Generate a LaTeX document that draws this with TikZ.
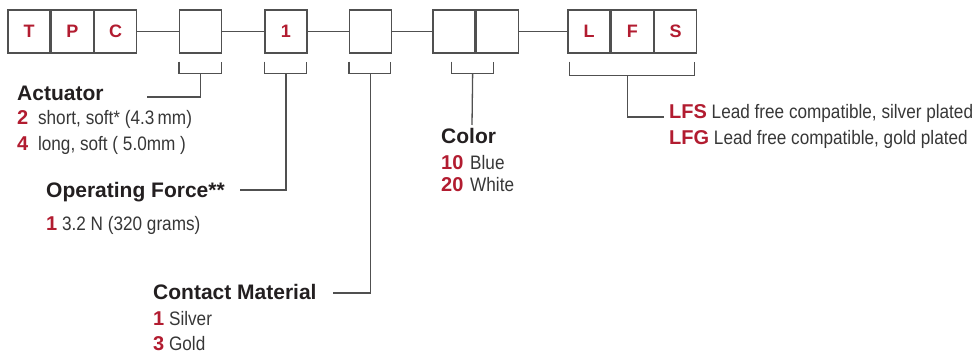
\documentclass[tikz,border=0pt]{standalone}
\usepackage{fontspec}
\setmainfont{Liberation Sans}
\newfontfamily\narrowfont[FakeStretch=0.88]{Liberation Sans}
\usetikzlibrary{positioning,calc}
\definecolor{partred}{RGB}{178,28,48}
\definecolor{linegray}{RGB}{80,80,80}
\definecolor{inkgray}{RGB}{35,31,32}
\definecolor{bodygray}{RGB}{55,55,55}
% red code followed by its meaning
\newcommand{\pick}[3][0pt]{{\color{partred}\rmfamily\fontsize{20}{24}\selectfont\bfseries #2}\hspace{#1}\ #3}
% bracket under one or more cells
\newcommand{\bracketspan}[3]{\draw[link] ($#1+(0,8)$) -- ($#1+(0,#3)$) -- ($#2+(0,#3)$) -- ($#2+(0,8)$);}
\tikzset{
  cell/.style={draw=linegray, line width=1.3pt, minimum width=42pt, minimum height=43pt,
    inner sep=0pt, text=partred, font=\fontsize{18}{20}\selectfont\bfseries},
  link/.style={draw=linegray, line width=1.3pt},
  head/.style={anchor=base west, inner sep=0pt, text=inkgray, font=\fontsize{21}{25}\selectfont\bfseries},
  item/.style={anchor=base west, inner sep=0pt, text=bodygray, font=\fontsize{19.5}{23}\selectfont\narrowfont}
}
\begin{document}
\begin{tikzpicture}[x=1pt, y=-1pt]
  \useasboundingbox (0,0) rectangle (974,352);
  % Code cells
  \node[cell] (t) at (29,31.5) {T};
  \node[cell, right=0pt of t] (p) {P};
  \node[cell, right=0pt of p] (c) {C};
  \node[cell] (act) at (200.5,31.5) {};
  \node[cell] (frc) at (286,31.5) {1};
  \node[cell] (mat) at (370.5,31.5) {};
  \node[cell] (col1) at (454,31.5) {};
  \node[cell, right=0pt of col1] (col2) {};
  \node[cell] (lf) at (589,31.5) {L};
  \node[cell, right=0pt of lf] (ff) {F};
  \node[cell, right=0pt of ff] (sf) {S};
  \draw[link] (c) -- (act);
  \draw[link] (act) -- (frc);
  \draw[link] (frc) -- (mat);
  \draw[link] (mat) -- (col1);
  \draw[link] (col2) -- (lf);
  % Brackets
  \bracketspan{(act.south west)}{([xshift=-1pt]act.south east)}{20}
  \bracketspan{(frc.south west)}{([xshift=-1pt]frc.south east)}{20}
  \bracketspan{(mat.south west)}{([xshift=-2pt]mat.south east)}{20}
  \bracketspan{([xshift=-24pt]col1.south east)}{([xshift=18pt]col1.south east)}{20}
  \bracketspan{([xshift=2pt]lf.south west)}{([xshift=-3pt]sf.south east)}{22}
  % Actuator
  \node[head] (acthead) at (17,101) {Actuator};
  \node[item] (act2) at (17,125) {\pick[5pt]{2}{short, soft* (4.3\,mm)}};
  \node[item] (act4) at (17,150.7) {\pick[5pt]{4}{long, soft ( 5.0mm )}};
  \coordinate (actend) at (147,97);
  \draw[link] ($(act.south)+(0,20)$) |- (actend);
  % Operating force
  \node[head] (frchead) at (46,198) {Operating Force**};
  \node[item] (frc1) at (46,231) {\pick{1}{3.2 N (320 grams)}};
  \coordinate (frcend) at (240,190);
  \draw[link] ($(frc.south)+(0,20)$) |- (frcend);
  % Contact material
  \node[head] (mathead) at (153,300) {Contact Material};
  \node[item] (mat1) at (153,325.5) {\pick{1}{Silver}};
  \node[item] (mat3) at (153,350) {\pick{3}{Gold}};
  \coordinate (matend) at (333,293);
  \draw[link] ($(mat.south)+(0,20)$) |- (matend);
  % Color
  \node[head] (colhead) at (441,143.3) {Color};
  \node[item] (col10) at (441,169.3) {\pick[2pt]{10}{Blue}};
  \node[item] (col20) at (441,191.7) {\pick[2pt]{20}{White}};
  \coordinate (colend) at (472,125);
  \draw[link] ($(col1.south east)+(-3,20)$) -- (colend);
  % Plating
  \node[item] (lfs) at (669,119) {\pick{LFS}{Lead free compatible, silver plated}};
  \node[item] (lfg) at (669,144.3) {\pick{LFG}{Lead free compatible, gold plated}};
  \coordinate (lfend) at (664,117);
  \draw[link] ($(ff.south)+(-5,22)$) |- (lfend);
\end{tikzpicture}
\end{document}
